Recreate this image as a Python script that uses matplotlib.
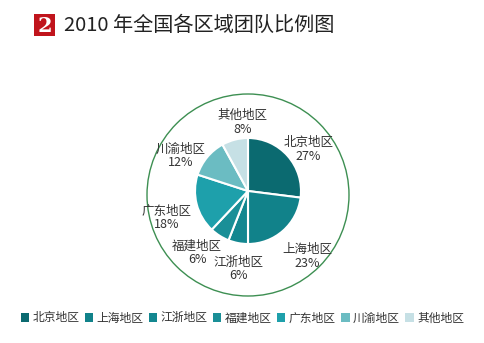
import numpy as np
import matplotlib.pyplot as plt
from matplotlib.patches import Circle, Rectangle, Patch

plt.rcParams['font.family'] = ['Noto Sans CJK SC', 'DejaVu Sans']

# regional share of teams, 2010
regions = ['北京地区', '上海地区', '江浙地区', '福建地区', '广东地区', '川渝地区', '其他地区']
shares = [27, 23, 6, 6, 18, 12, 8]
colors = ['#0b6a70', '#11828a', '#138790', '#1a8f97', '#1ea0ab', '#6bbcc2', '#c6e0e5']
title = '2010 年全国各区域团队比例图'

fig = plt.figure(figsize=(4.85, 3.43), dpi=100)
# axes in pixel units, y pointing down
ax = fig.add_axes([0, 0, 1, 1])

cx, cy, R = 248, 191, 53
# y axis is inverted, so start at -90 and run counterclockwise in data terms
wedges, _ = ax.pie(shares, colors=colors, startangle=-90, counterclock=True,
                   center=(cx, cy), radius=R, frame=True,
                   wedgeprops=dict(edgecolor='white', linewidth=1.5))
ax.set_xlim(0, 485)
ax.set_ylim(343, 0)
ax.set_aspect('equal')
ax.axis('off')

# outer ring
ax.add_patch(Circle((cx, 195), 101, fill=False, edgecolor='#3d8f52', linewidth=1))

# labels around the pie: radial factor and angle tweak per slice
label_r = [1.38, 1.67, 1.48, 1.51, 1.62, 1.44, 1.30]
label_da = [-7, 1, 4, -7, 4, 12, -10]
start = 90.0
for name, v, r, da in zip(regions, shares, label_r, label_da):
    mid = start - v * 3.6 / 2
    start -= v * 3.6
    a = np.deg2rad(mid + da)
    x = cx + R * r * np.cos(a)
    y = cy - R * r * np.sin(a)
    ax.text(x, y, f'{name}\n{v}%', ha='center', va='center', fontsize=9,
            color='#333333', linespacing=1.05)

# title with red number badge
ax.add_patch(Rectangle((34, 14), 21, 22, facecolor='#c0141c', edgecolor='none'))
ax.text(44.5, 25.5, '2', ha='center', va='center', fontsize=15, color='white',
        fontweight='bold', family='DejaVu Serif')
ax.text(64, 25, title, ha='left', va='center', fontsize=14.5, color='#222222')

handles = [Patch(facecolor=c, edgecolor='none') for c in colors]
fig.legend(handles, regions, loc='center', bbox_to_anchor=(0.5, 1 - 318 / 343),
           ncol=7, frameon=False, fontsize=8.5, handlelength=0.7, handleheight=0.7,
           handletextpad=0.3, columnspacing=0.45, labelcolor='#333333')

fig.savefig('out.png', dpi=100, facecolor='white')
